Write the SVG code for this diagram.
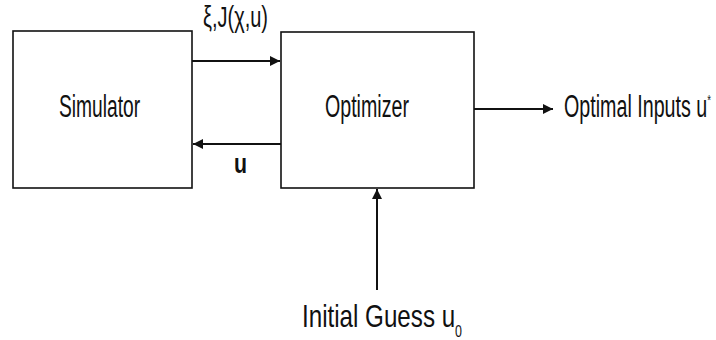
<svg xmlns="http://www.w3.org/2000/svg" width="716" height="340" viewBox="0 0 716 340">
<style>
.box{fill:#fff;stroke:#111;stroke-width:1.6}
.t{font-family:"Liberation Sans",Arial,sans-serif;font-size:31px;fill:#111}
.c{stroke:#111;stroke-width:2;fill:none}
</style>
<defs>
<marker id="ah" viewBox="0 0 10 10" refX="10" refY="5" markerWidth="12" markerHeight="10" markerUnits="userSpaceOnUse" orient="auto">
<path d="M0,0 L10,5 L0,10 Z" fill="#111"/>
</marker>
</defs>
<rect width="716" height="340" fill="#fff"/>
<g id="simulator">
<rect class="box" x="13" y="31" width="179" height="157"/>
<text class="t" transform="translate(59,117) scale(0.62,1)">Simulator</text>
</g>
<g id="optimizer">
<rect class="box" x="281" y="32" width="193" height="156"/>
<text class="t" transform="translate(325,117) scale(0.633,1)">Optimizer</text>
</g>
<g id="output">
<text class="t" transform="translate(564,117) scale(0.635,1)">Optimal Inputs u<tspan dy="-12" style="font-size:15px">*</tspan></text>
</g>
<g id="initial">
<text class="t" transform="translate(302,327) scale(0.78,1)">Initial Guess u<tspan dy="10" style="font-size:16px">0</tspan></text>
</g>
<g id="connectors">
<line class="c" x1="192" y1="61" x2="280" y2="61" marker-end="url(#ah)"/>
<line class="c" x1="281" y1="144" x2="193" y2="144" marker-end="url(#ah)"/>
<line class="c" x1="474" y1="109" x2="553" y2="109" marker-end="url(#ah)"/>
<line class="c" x1="377" y1="290" x2="377" y2="189" marker-end="url(#ah)"/>
<text class="t" x="203" y="27" style="font-size:30px" textLength="65" lengthAdjust="spacingAndGlyphs">ξ,J(χ,u)</text>
<text class="t" x="234" y="173" style="font-weight:bold;font-size:28px" textLength="13" lengthAdjust="spacingAndGlyphs">u</text>
</g>
</svg>
